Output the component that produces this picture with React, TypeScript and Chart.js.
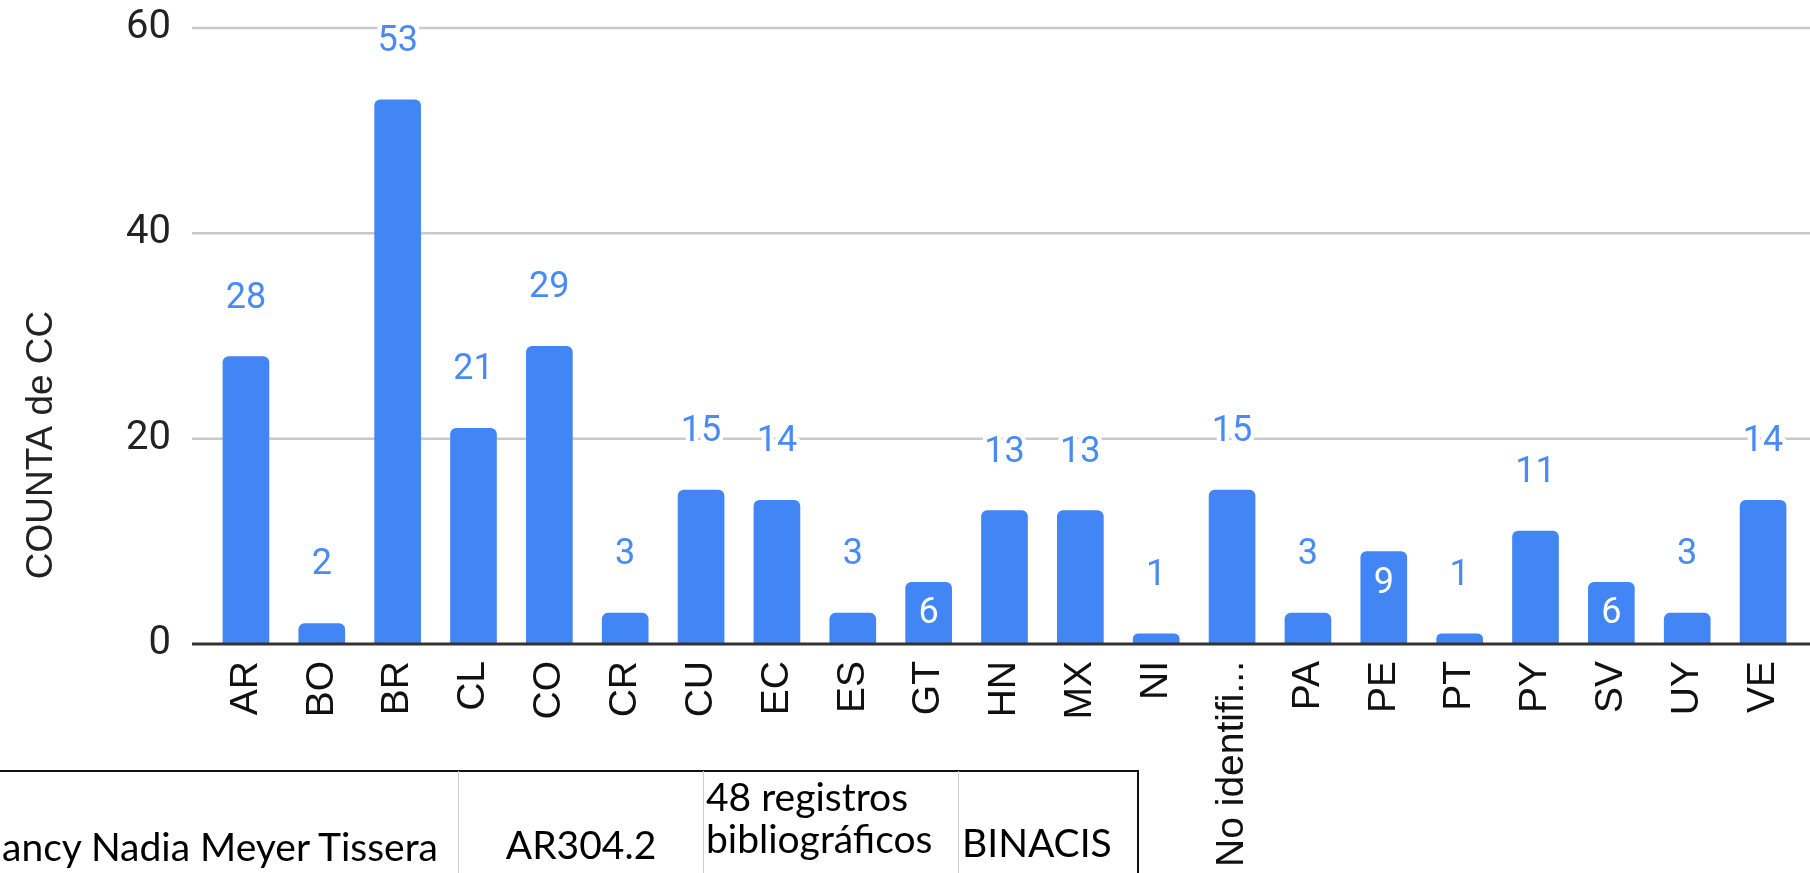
import React, { useEffect, useRef } from "react";
import { Chart, registerables } from "chart.js";

Chart.register(...registerables);

// ---- data ----
const categories = [
  "AR", "BO", "BR", "CL", "CO", "CR", "CU", "EC", "ES", "GT", "HN",
  "MX", "NI", "No identifi...", "PA", "PE", "PT", "PY", "SV", "UY", "VE",
];
const counts = [28, 2, 53, 21, 29, 3, 15, 14, 3, 6, 13, 13, 1, 15, 3, 9, 1, 11, 6, 3, 14];
const yTicks = [0, 20, 40, 60];
const yAxisTitle = "COUNTA de CC";
const insideLabelCategories = ["GT", "PE", "SV"];

// overlapping table fragment (visible part of the row)
const tableNameCell = "ancy Nadia Meyer Tissera";
const tableCodeCell = "AR304.2";
const tableRecordLines = ["48 registros", "bibliográficos"];
const tableSourceCell = "BINACIS";

const BAR_COLOR = "#4285F4";
const LABEL_COLOR = "#4a8af4";

const overlayPlugin = {
  id: "overlayPlugin",
  beforeDatasetsDraw(chart: any) {
    const { ctx, chartArea, width } = chart;
    const y = chart.scales.y;
    ctx.save();
    ctx.strokeStyle = "#c9c9c9";
    ctx.lineWidth = 2.5;
    yTicks.forEach((v) => {
      if (v === 0) return;
      const py = y.getPixelForValue(v);
      ctx.beginPath();
      ctx.moveTo(chartArea.left - 16, py);
      ctx.lineTo(width, py);
      ctx.stroke();
    });
    ctx.restore();

    // y axis title
    ctx.save();
    ctx.translate(42, 445);
    ctx.rotate(-Math.PI / 2);
    ctx.font = "37px 'Liberation Sans', Arial, sans-serif";
    ctx.fillStyle = "#222";
    ctx.textAlign = "center";
    ctx.textBaseline = "middle";
    ctx.fillText(yAxisTitle, 0, 0);
    ctx.restore();
  },
  afterDatasetsDraw(chart: any) {
    const { ctx, chartArea, width } = chart;
    const y = chart.scales.y;
    const y0 = y.getPixelForValue(0);
    ctx.save();
    ctx.strokeStyle = "#333";
    ctx.lineWidth = 3;
    ctx.beginPath();
    ctx.moveTo(chartArea.left - 16, y0);
    ctx.lineTo(width, y0);
    ctx.stroke();

    const meta = chart.getDatasetMeta(0);
    ctx.font = "36px Roboto, sans-serif";
    ctx.textAlign = "center";
    ctx.textBaseline = "middle";
    ctx.lineJoin = "round";
    meta.data.forEach((bar: any, i: number) => {
      const text = String(counts[i]);
      const inside = insideLabelCategories.includes(categories[i]);
      if (inside) {
        ctx.fillStyle = "#ffffff";
        ctx.fillText(text, bar.x, bar.y + 32);
      } else {
        const ly = bar.y - 58;
        ctx.strokeStyle = "#ffffff";
        ctx.lineWidth = 9;
        ctx.strokeText(text, bar.x, ly);
        ctx.fillStyle = LABEL_COLOR;
        ctx.fillText(text, bar.x, ly);
      }
    });
    ctx.restore();
  },
};

const zeroPadding = (scale: any) => {
  scale.paddingTop = 0;
  scale.paddingBottom = 0;
  scale.paddingLeft = 0;
  scale.paddingRight = 0;
};

export default function App() {
  const canvasRef = useRef<HTMLCanvasElement | null>(null);

  useEffect(() => {
    if (!canvasRef.current) return;
    const chart = new Chart(canvasRef.current, {
      type: "bar",
      data: {
        labels: categories,
        datasets: [
          {
            data: counts,
            backgroundColor: BAR_COLOR,
            borderRadius: 6,
            borderSkipped: "start",
            barThickness: 46,
          },
        ],
      },
      options: {
        animation: false,
        responsive: true,
        maintainAspectRatio: false,
        layout: { padding: { top: 28, right: 9, left: 0, bottom: 0 } },
        plugins: {
          legend: { display: false },
          tooltip: { enabled: false },
          title: { display: false },
        },
        scales: {
          x: {
            offset: true,
            grid: { display: false, drawTicks: false },
            border: { display: false },
            ticks: {
              autoSkip: false,
              minRotation: 90,
              maxRotation: 90,
              padding: 17,
              color: "#111",
              font: { family: "'Liberation Sans', Arial, sans-serif", size: 39 },
            },
            afterFit: (scale: any) => {
              scale.height = 229;
              zeroPadding(scale);
            },
          },
          y: {
            min: 0,
            max: 60,
            grid: { display: false, drawTicks: false },
            border: { display: false },
            ticks: {
              stepSize: 20,
              padding: 37,
              color: "#222",
              font: { family: "Roboto, sans-serif", size: 40 },
            },
            afterFit: (scale: any) => {
              scale.width = 208;
              zeroPadding(scale);
            },
          },
        },
      },
      plugins: [overlayPlugin],
    });
    return () => chart.destroy();
  }, []);

  const textFont: React.CSSProperties = {
    position: "absolute",
    fontFamily: "Lato, 'Noto Sans', sans-serif",
    fontSize: 39,
    lineHeight: "42px",
    color: "#000",
    whiteSpace: "nowrap",
  };

  return (
    <div
      style={{
        position: "fixed",
        left: 0,
        top: 0,
        width: 1810,
        height: 873,
        background: "#fff",
        overflow: "hidden",
      }}
    >
      <canvas ref={canvasRef} style={{ width: "100%", height: "100%" }} />
      {/* table fragment */}
      <div style={{ position: "absolute", left: 0, top: 770, width: 1139, height: 2, background: "#111" }} />
      <div style={{ position: "absolute", left: 458, top: 771, width: 1, height: 102, background: "#cfcfcf" }} />
      <div style={{ position: "absolute", left: 703, top: 771, width: 1, height: 102, background: "#cfcfcf" }} />
      <div style={{ position: "absolute", left: 958, top: 771, width: 1, height: 102, background: "#cfcfcf" }} />
      <div style={{ position: "absolute", left: 1137, top: 770, width: 2, height: 103, background: "#111" }} />
      <div style={{ ...textFont, left: 2, top: 825 }}>{tableNameCell}</div>
      <div style={{ ...textFont, left: 459, width: 244, textAlign: "center", top: 823 }}>{tableCodeCell}</div>
      <div style={{ ...textFont, left: 706, top: 775 }}>
        {tableRecordLines.map((l) => (
          <div key={l}>{l}</div>
        ))}
      </div>
      <div style={{ ...textFont, left: 962, top: 821 }}>{tableSourceCell}</div>
    </div>
  );
}
